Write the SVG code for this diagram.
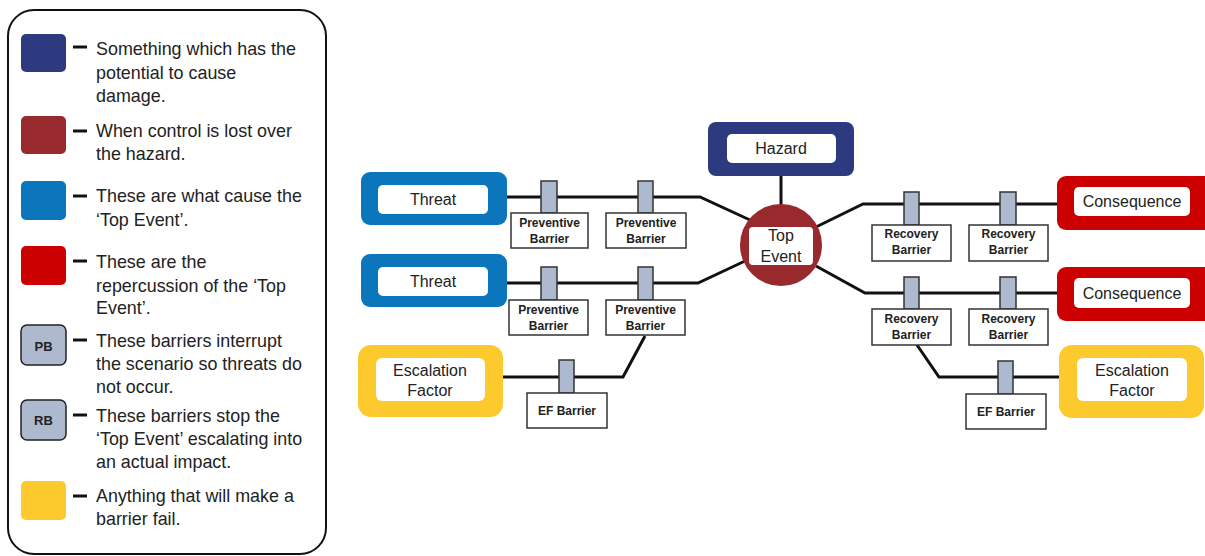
<svg xmlns="http://www.w3.org/2000/svg" width="1205" height="556" viewBox="0 0 1205 556">
<style>
text{font-family:"Liberation Sans",Arial,sans-serif;fill:#222}
.leg{font-size:17.9px}
.lbl{font-size:16px;text-anchor:middle}
.bl{font-size:12px;font-weight:bold;text-anchor:middle}
.dash{stroke:#111;stroke-width:3}
.conn{stroke:#111;stroke-width:3;fill:none}
.post{fill:#adb9cf;stroke:#333;stroke-width:1.5}
.bbox{fill:#fff;stroke:#333;stroke-width:1.5}
.inner{fill:#fff}
</style>
<rect width="1205" height="556" fill="#fff"/>
<g id="legend">
<rect x="8" y="10" width="318" height="544" rx="26" fill="#fff" stroke="#111" stroke-width="2"/>
<rect x="21" y="34" width="45" height="38" rx="5" fill="#2e3a80"/>
<rect x="21" y="116" width="45" height="38" rx="5" fill="#982a2e"/>
<rect x="21" y="181" width="45" height="39" rx="5" fill="#0b76bb"/>
<rect x="21" y="246" width="45" height="39" rx="5" fill="#cc0000"/>
<rect x="21" y="325" width="45" height="40" rx="6" fill="#adb9cf" stroke="#222" stroke-width="1.5"/>
<text x="43.5" y="351" text-anchor="middle" style="font-size:13px;font-weight:bold">PB</text>
<rect x="21" y="400" width="45" height="40" rx="6" fill="#adb9cf" stroke="#222" stroke-width="1.5"/>
<text x="43.5" y="425" text-anchor="middle" style="font-size:13px;font-weight:bold">RB</text>
<rect x="21" y="481" width="45" height="39" rx="5" fill="#fdca2e"/>
<line class="dash" x1="73" y1="47" x2="87" y2="47"/>
<line class="dash" x1="73" y1="131" x2="87" y2="131"/>
<line class="dash" x1="73" y1="196" x2="87" y2="196"/>
<line class="dash" x1="73" y1="261" x2="87" y2="261"/>
<line class="dash" x1="73" y1="340" x2="87" y2="340"/>
<line class="dash" x1="73" y1="415" x2="87" y2="415"/>
<line class="dash" x1="73" y1="496" x2="87" y2="496"/>
<text class="leg" x="96" y="55">Something which has the</text>
<text class="leg" x="96" y="79">potential to cause</text>
<text class="leg" x="96" y="102">damage.</text>
<text class="leg" x="96" y="137">When control is lost over</text>
<text class="leg" x="96" y="160">the hazard.</text>
<text class="leg" x="96" y="202">These are what cause the</text>
<text class="leg" x="96" y="226">‘Top Event’.</text>
<text class="leg" x="96" y="268">These are the</text>
<text class="leg" x="96" y="292">repercussion of the ‘Top</text>
<text class="leg" x="96" y="314">Event’.</text>
<text class="leg" x="96" y="347">These barriers interrupt</text>
<text class="leg" x="96" y="370">the scenario so threats do</text>
<text class="leg" x="96" y="393">not occur.</text>
<text class="leg" x="96" y="422">These barriers stop the</text>
<text class="leg" x="96" y="445">‘Top Event’ escalating into</text>
<text class="leg" x="96" y="468">an actual impact.</text>
<text class="leg" x="96" y="502">Anything that will make a</text>
<text class="leg" x="96" y="525">barrier fail.</text>
</g>
<g id="connectors">
<polyline class="conn" points="507,197 700,197 750,220"/>
<polyline class="conn" points="507,283 698,283 745,261"/>
<polyline class="conn" points="503,377 623,377 645,336"/>
<line class="conn" x1="781" y1="176" x2="781" y2="206"/>
<polyline class="conn" points="816,227 863,204 1057,204"/>
<polyline class="conn" points="816,266 865,293 1057,293"/>
<polyline class="conn" points="917,345 939,377 1059,377"/>
</g>
<g id="hazard">
<rect x="708" y="122" width="146" height="54" rx="8" fill="#2e3a80"/>
<rect class="inner" x="727" y="134" width="109" height="29" rx="5"/>
<text class="lbl" x="781" y="154">Hazard</text>
</g>
<g id="top-event">
<circle cx="781" cy="245" r="41" fill="#982a2e"/>
<rect class="inner" x="749" y="227" width="64" height="38" rx="4"/>
<text class="lbl" x="781" y="241">Top</text>
<text class="lbl" x="781" y="262">Event</text>
</g>
<g id="threat-1">
<rect x="361" y="172" width="146" height="53" rx="9" fill="#0b76bb"/>
<rect class="inner" x="378" y="185" width="110" height="29" rx="5"/>
<text class="lbl" x="433" y="205">Threat</text>
</g>
<g id="threat-2">
<rect x="361" y="254" width="146" height="53" rx="9" fill="#0b76bb"/>
<rect class="inner" x="378" y="267" width="110" height="29" rx="5"/>
<text class="lbl" x="433" y="287">Threat</text>
</g>
<g id="escalation-factor-left">
<rect x="358" y="345" width="145" height="72" rx="13" fill="#fdca2e"/>
<rect class="inner" x="376" y="358" width="109" height="43" rx="6"/>
<text class="lbl" x="430" y="376">Escalation</text>
<text class="lbl" x="430" y="396">Factor</text>
</g>
<g id="consequence-1">
<rect x="1057" y="176" width="160" height="54" rx="9" fill="#cc0000"/>
<rect class="inner" x="1074" y="187" width="116" height="29" rx="5"/>
<text class="lbl" x="1132" y="207">Consequence</text>
</g>
<g id="consequence-2">
<rect x="1057" y="267" width="160" height="54" rx="9" fill="#cc0000"/>
<rect class="inner" x="1074" y="278" width="116" height="30" rx="5"/>
<text class="lbl" x="1132" y="299">Consequence</text>
</g>
<g id="escalation-factor-right">
<rect x="1059" y="345" width="145" height="73" rx="13" fill="#fdca2e"/>
<rect class="inner" x="1077" y="358" width="110" height="43" rx="6"/>
<text class="lbl" x="1132" y="376">Escalation</text>
<text class="lbl" x="1132" y="396">Factor</text>
</g>
<g id="pb-1-1">
<rect class="post" x="541" y="181" width="16" height="32"/>
<rect class="bbox" x="511" y="213" width="77" height="35"/>
<text class="bl" x="549.5" y="227">Preventive</text>
<text class="bl" x="549.5" y="243">Barrier</text>
</g>
<g id="pb-1-2">
<rect class="post" x="638" y="181" width="15" height="32"/>
<rect class="bbox" x="606" y="213" width="80" height="35"/>
<text class="bl" x="646" y="227">Preventive</text>
<text class="bl" x="646" y="243">Barrier</text>
</g>
<g id="pb-2-1">
<rect class="post" x="541" y="267" width="16" height="33"/>
<rect class="bbox" x="509" y="300" width="79" height="35"/>
<text class="bl" x="548.5" y="314">Preventive</text>
<text class="bl" x="548.5" y="330">Barrier</text>
</g>
<g id="pb-2-2">
<rect class="post" x="638" y="267" width="15" height="33"/>
<rect class="bbox" x="606" y="300" width="79" height="35"/>
<text class="bl" x="645.5" y="314">Preventive</text>
<text class="bl" x="645.5" y="330">Barrier</text>
</g>
<g id="ef-barrier-left">
<rect class="post" x="559" y="360" width="15" height="33"/>
<rect class="bbox" x="527" y="393" width="80" height="35"/>
<text class="bl" x="567" y="415">EF Barrier</text>
</g>
<g id="rb-1-1">
<rect class="post" x="904" y="192" width="15" height="33"/>
<rect class="bbox" x="872" y="225" width="79" height="36"/>
<text class="bl" x="911.5" y="238">Recovery</text>
<text class="bl" x="911.5" y="254">Barrier</text>
</g>
<g id="rb-1-2">
<rect class="post" x="1000" y="192" width="16" height="33"/>
<rect class="bbox" x="969" y="225" width="79" height="36"/>
<text class="bl" x="1008.5" y="238">Recovery</text>
<text class="bl" x="1008.5" y="254">Barrier</text>
</g>
<g id="rb-2-1">
<rect class="post" x="904" y="277" width="15" height="32"/>
<rect class="bbox" x="872" y="309" width="79" height="36"/>
<text class="bl" x="911.5" y="323">Recovery</text>
<text class="bl" x="911.5" y="339">Barrier</text>
</g>
<g id="rb-2-2">
<rect class="post" x="1000" y="277" width="16" height="32"/>
<rect class="bbox" x="969" y="309" width="79" height="36"/>
<text class="bl" x="1008.5" y="323">Recovery</text>
<text class="bl" x="1008.5" y="339">Barrier</text>
</g>
<g id="ef-barrier-right">
<rect class="post" x="998" y="361" width="15" height="33"/>
<rect class="bbox" x="966" y="394" width="80" height="35"/>
<text class="bl" x="1006" y="416">EF Barrier</text>
</g>
</svg>
